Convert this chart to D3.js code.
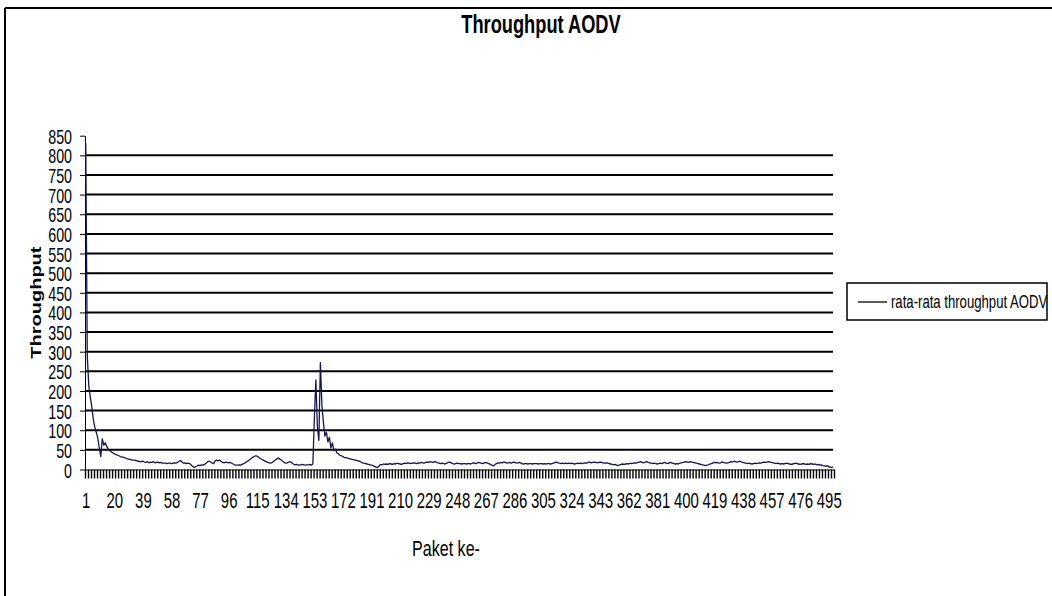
<!DOCTYPE html>
<html>
<head>
<meta charset="utf-8">
<script src="https://cdn.jsdelivr.net/npm/d3@7"></script>
<style>
  body { margin: 0; background: #fff; }
  svg { display: block; }
  text { font-family: "Liberation Sans", Arial, sans-serif; fill: #000; }
</style>
</head>
<body>
<svg id="chart" width="1052" height="596"></svg>
<script>
// Chart texts
const chartTitle = "Throughput AODV";
const seriesName = "rata-rata throughput AODV";
const yTitle = "Throughput";
const xTitle = "Paket ke-";

// Value axis ticks
const yTicks = [0, 50, 100, 150, 200, 250, 300, 350, 400, 450, 500, 550, 600, 650, 700, 750, 800, 850];
// Category labels shown under the axis
const xLabels = [1, 20, 39, 58, 77, 96, 115, 134, 153, 172, 191, 210, 229, 248, 267, 286, 305, 324,
                 343, 362, 381, 400, 419, 438, 457, 476, 495];

// Average throughput per packet (packet 1 .. 498)
const throughput = [
  830, 290, 215, 185, 160, 128, 108, 95, 80, 55, 33, 78, 62, 68, 58, 52, 48, 45, 42, 40,
  38, 37, 35, 33, 32, 31, 30, 28, 27, 26, 25, 24, 24, 23, 22, 21, 20, 20, 21, 19,
  18, 20, 17, 19, 18, 20, 17, 18, 19, 17, 18, 16, 16, 16, 15, 16, 16, 15, 16, 17,
  16, 18, 21, 23, 19, 16, 17, 15, 16, 15, 12, 8, 5, 7, 9, 11, 10, 12, 11, 13,
  16, 20, 21, 19, 17, 15, 22, 24, 22, 24, 21, 18, 17, 19, 18, 17, 18, 16, 14, 12,
  11, 11, 12, 11, 13, 15, 17, 20, 22, 25, 28, 31, 33, 35, 34, 31, 28, 26, 24, 22,
  20, 18, 17, 16, 18, 21, 24, 27, 29, 27, 24, 21, 18, 16, 17, 19, 20, 17, 14, 12,
  13, 12, 11, 12, 13, 12, 11, 12, 12, 13, 11, 14, 130, 228, 110, 74, 272, 165, 120, 85,
  95, 70, 82, 55, 68, 48, 52, 42, 40, 36, 35, 33, 30, 30, 29, 28, 27, 26, 25, 24,
  23, 22, 21, 19, 17, 16, 15, 14, 13, 12, 11, 10, 8, 6, 5, 9, 13, 12, 14, 13,
  14, 13, 15, 14, 13, 15, 14, 16, 15, 14, 13, 15, 16, 15, 17, 16, 15, 16, 17, 16,
  15, 17, 16, 18, 17, 16, 18, 19, 18, 20, 19, 18, 20, 19, 17, 16, 15, 16, 15, 14,
  16, 18, 19, 17, 15, 14, 15, 16, 15, 15, 14, 15, 15, 14, 15, 15, 14, 16, 17, 15,
  16, 18, 17, 16, 15, 17, 18, 16, 15, 13, 11, 9, 12, 15, 17, 16, 18, 17, 19, 18,
  16, 17, 18, 16, 18, 19, 17, 16, 18, 17, 15, 14, 15, 15, 14, 15, 15, 14, 15, 15,
  15, 14, 15, 15, 14, 15, 14, 15, 15, 14, 15, 16, 18, 19, 17, 16, 15, 16, 15, 16,
  15, 16, 15, 16, 15, 14, 15, 16, 15, 16, 15, 16, 17, 16, 18, 19, 17, 18, 19, 18,
  17, 18, 19, 18, 17, 16, 17, 16, 15, 14, 13, 12, 13, 11, 10, 12, 13, 14, 13, 14,
  15, 14, 16, 15, 16, 17, 16, 18, 19, 20, 18, 17, 19, 20, 18, 17, 16, 15, 16, 15,
  14, 15, 16, 15, 17, 18, 16, 15, 17, 18, 16, 15, 14, 15, 14, 16, 17, 18, 19, 20,
  19, 18, 20, 19, 18, 17, 16, 15, 14, 13, 12, 11, 10, 11, 12, 14, 15, 17, 18, 17,
  18, 16, 17, 19, 18, 17, 16, 17, 18, 20, 19, 21, 20, 19, 20, 21, 19, 18, 17, 16,
  15, 16, 15, 14, 15, 16, 15, 16, 17, 16, 18, 19, 18, 19, 20, 19, 18, 17, 16, 15,
  16, 15, 14, 15, 14, 15, 16, 15, 14, 13, 14, 15, 16, 15, 14, 13, 14, 15, 14, 13,
  14, 13, 15, 14, 13, 14, 12, 13, 11, 12, 10, 9, 8, 10, 7, 6, 5, 7
];
const packets = throughput.map((_, i) => i + 1);

// Layout
const W = 1052, H = 596;
const plot = { left: 85, right: 834, top: 135.7, bottom: 469.5 };
const narrow = 0.73;          // horizontal squeeze giving the narrow lettering
const tickNarrow = 0.68;
const lineColor = "#16164e";

const svg = d3.select("#chart");

// Frame around the chart object (top and left edges)
svg.append("line").attr("x1", 5).attr("y1", 8).attr("x2", W).attr("y2", 8)
  .attr("stroke", "#000").attr("stroke-width", 2);
svg.append("line").attr("x1", 5).attr("y1", 8).attr("x2", 5).attr("y2", H)
  .attr("stroke", "#000").attr("stroke-width", 2);

const x = d3.scaleLinear().domain([0.5, packets.length + 0.5]).range([plot.left, plot.right]);
const y = d3.scaleLinear().domain([0, 850]).range([plot.bottom, plot.top]);

// Horizontal gridlines
svg.append("g").selectAll("line")
  .data(yTicks.filter(v => v > 0 && v < 850))
  .join("line")
  .attr("x1", plot.left).attr("x2", plot.right - 1)
  .attr("y1", d => y(d)).attr("y2", d => y(d))
  .attr("stroke", "#000").attr("stroke-width", 2);

// Value axis
const yAxis = svg.append("g")
  .attr("transform", `translate(${plot.left},0)`)
  .call(d3.axisLeft(y).tickValues(yTicks).tickSize(5).tickSizeOuter(0));
yAxis.select(".domain").attr("stroke", "#000");
yAxis.selectAll(".tick line").attr("stroke", "#000");
yAxis.selectAll(".tick text")
  .attr("font-size", 21)
  .attr("font-family", "Liberation Sans, Arial, sans-serif")
  .attr("x", -13 / tickNarrow)
  .attr("dy", "0.36em")
  .attr("transform", `scale(${tickNarrow},1)`);

// Category axis: dense tick comb every two packets
const combValues = d3.range(0.5, packets.length + 1, 2);
const comb = svg.append("g")
  .attr("transform", `translate(0,${plot.bottom})`)
  .call(d3.axisBottom(x).tickValues(combValues).tickSize(9).tickSizeOuter(0).tickFormat(""));
comb.select(".domain").attr("stroke", "#000");
comb.selectAll(".tick line").attr("stroke", "#000").attr("stroke-width", 1.4);

// Category labels
const xAxis = svg.append("g")
  .attr("transform", `translate(0,${plot.bottom})`)
  .call(d3.axisBottom(x).tickValues(xLabels).tickSize(0).tickPadding(22.8));
xAxis.select(".domain").remove();
xAxis.selectAll(".tick text")
  .attr("font-size", 22)
  .attr("font-family", "Liberation Sans, Arial, sans-serif")
  .attr("transform", `scale(${tickNarrow},1)`);

// Data line
const line = d3.line()
  .x((d, i) => x(packets[i]))
  .y(d => y(d));
svg.append("path")
  .datum(throughput)
  .attr("d", line)
  .attr("fill", "none")
  .attr("stroke", lineColor)
  .attr("stroke-width", 1.3)
  .attr("stroke-linejoin", "round");

// Title
svg.append("text")
  .attr("transform", `translate(541,33) scale(${narrow},1)`)
  .attr("text-anchor", "middle")
  .attr("font-size", 25)
  .attr("font-weight", "bold")
  .text(chartTitle);

// Axis titles
svg.append("text")
  .attr("transform", `translate(41,${(plot.top + plot.bottom) / 2}) rotate(-90) scale(1,${narrow})`)
  .attr("text-anchor", "middle")
  .attr("font-size", 20)
  .attr("font-weight", "bold")
  .text(yTitle);

svg.append("text")
  .attr("transform", `translate(446,556) scale(${narrow},1)`)
  .attr("text-anchor", "middle")
  .attr("font-size", 22)
  .text(xTitle);

// Legend
const legend = svg.append("g");
legend.append("rect")
  .attr("x", 847).attr("y", 283).attr("width", 200).attr("height", 37)
  .attr("fill", "#fff").attr("stroke", "#000").attr("stroke-width", 1.5);
legend.append("line")
  .attr("x1", 858).attr("x2", 887).attr("y1", 302).attr("y2", 302)
  .attr("stroke", "#000").attr("stroke-width", 1.3);
legend.append("text")
  .attr("transform", `translate(891,308) scale(${narrow},1)`)
  .attr("font-size", 18)
  .text(seriesName);
</script>
</body>
</html>
